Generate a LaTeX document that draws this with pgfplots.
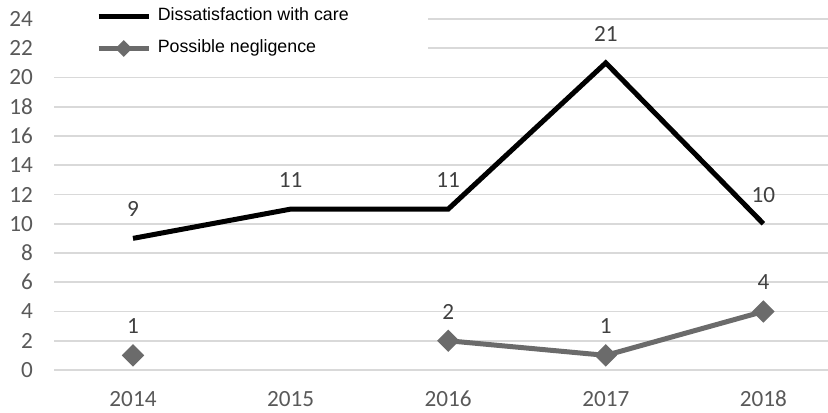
\documentclass[border=0pt]{standalone}
\usepackage{fontspec}
\setmainfont{Carlito}
\newfontfamily\legendfont{Liberation Sans}
\usepackage{pgfplots}
\pgfplotsset{compat=1.18}
\usetikzlibrary{calc}

\definecolor{gridgray}{HTML}{D9D9D9}
\definecolor{ticktext}{HTML}{595959}
\definecolor{labeltext}{HTML}{404040}
\definecolor{seriesgray}{HTML}{6B6B6B}

% legend samples: a plain line, and a line with one small diamond in the middle
\pgfplotsset{
  lineleg/.style={legend image code/.code={\draw[##1] (0pt,0pt) -- (25pt,0pt);}},
  markleg/.style={legend image code/.code={\draw[##1, mark size=1.7pt, mark repeat=2, mark phase=2]
    plot coordinates {(0pt,0pt) (12.5pt,0pt) (25pt,0pt)};}},
}

\begin{document}
\begin{tikzpicture}
\begin{axis}[
  scale only axis,
  width=386.9pt, height=175.5pt,
  xmin=-0.5, xmax=4.41,
  ymin=0, ymax=24,
  ytick={0,2,...,24},
  xtick={0,1,2,3,4},
  xticklabels={2014,2015,2016,2017,2018},
  axis line style={draw=none},
  major tick length=0pt,
  ymajorgrids,
  grid style={gridgray, line width=0.9pt},
  tick label style={font=\fontsize{11.6}{13}\selectfont, text=ticktext},
  yticklabel style={inner sep=0pt, xshift=-10.5pt},
  xticklabel style={inner sep=0pt, anchor=base, yshift=-18.2pt},
  /pgf/number format/assume math mode=true,
  clip=false,
  unbounded coords=jump,
  nodes near coords,
  every node near coord/.append style={font=\fontsize{11.6}{13}\selectfont,
    text=labeltext, anchor=base, inner sep=0pt, yshift=10.8pt},
  legend cell align=left,
  legend style={at={(0,1)}, anchor=north west, xshift=20.8pt, yshift=5.6pt,
    draw=none, fill=none, inner sep=0pt, row sep=7.7pt, column sep=3.3pt,
    nodes={inner sep=0pt, text height=6.4pt, text depth=1.9pt,
      font=\legendfont\fontsize{8.9}{10}\selectfont, text=black}},
]
% white patch behind the legend, hiding the upper grid lines there
\fill[white] (axis cs:-0.5,20.6) rectangle (axis cs:1.87,24.6);

\addplot[black, line width=2.5pt, lineleg]
  coordinates {(0,9) (1,11) (2,11) (3,21) (4,10)};
\addlegendentry{Dissatisfaction with care}

\addplot[seriesgray, line width=2.5pt, mark=square*, mark size=2.7pt,
  mark options={solid, fill=seriesgray, rotate=45}, markleg]
  coordinates {(0,1) (1,nan) (2,2) (3,1) (4,4)};
\addlegendentry{Possible negligence}

\coordinate (o) at (rel axis cs:0,0);
\coordinate (ne) at (rel axis cs:1,1);
\end{axis}
\pgfresetboundingbox
\path ($(o)+(-27.1pt,-21pt)$) rectangle ($(ne)+(0pt,9.5pt)$);
\end{tikzpicture}
\end{document}
